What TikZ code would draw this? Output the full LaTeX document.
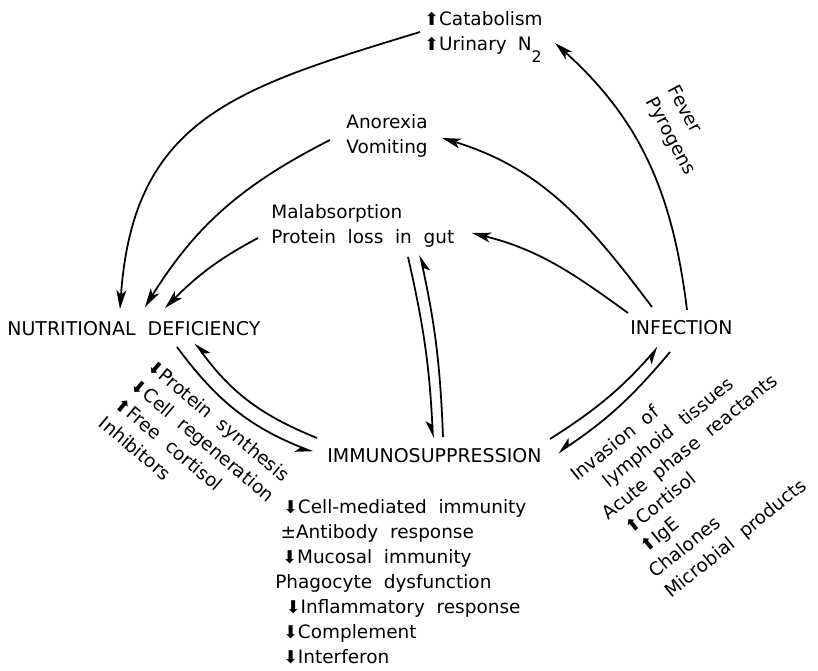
\documentclass[tikz,border=0pt]{standalone}
\usepackage{fontspec}
\setmainfont{DejaVu Sans}[WordSpace=2]
\usetikzlibrary{arrows.meta}

\newcommand{\upar}{{\fontsize{10}{10}\selectfont ⬆}}
\newcommand{\dnar}{{\fontsize{10}{10}\selectfont ⬇}}

\tikzset{
    lbl/.style={inner sep=0pt, font=\fontsize{10.5}{14.2}\selectfont},
    statelbl/.style={inner sep=0pt, font=\fontsize{10.8}{14}\selectfont},
    mainarrow/.style={line width=1pt, -{Stealth[length=3.8mm, width=2mm, inset=1mm]}},
    halfarrow/.style={line width=1pt, -{Stealth[harpoon, swap, length=3mm, width=2.6mm, inset=0.8mm]}}
}

\begin{document}
\begin{tikzpicture}[x=0.02cm, y=0.02cm]
    \useasboundingbox (0,0) rectangle (818,-671);

    % Three states
    \node[statelbl, anchor=base west] (nd) at (7,-336) {NUTRITIONAL DEFICIENCY};
    \node[statelbl, anchor=base west] (immuno) at (327,-463) {IMMUNOSUPPRESSION};
    \node[statelbl, anchor=base west] (infect) at (630,-335) {INFECTION};

    % Effects of infection
    \node[lbl, anchor=north west, align=left] (catab) at (424,-11)
        {\upar Catabolism\\\upar Urinary\hspace{0.6em}N\raisebox{-6.8pt}{\fontsize{9}{9}\selectfont 2}};
    \node[lbl, anchor=north, align=center] (anorex) at (387,-114) {Anorexia\\Vomiting};
    \node[lbl, anchor=north west, align=left] (malab) at (271,-204) {Malabsorption\\Protein loss in gut};
    \node[lbl, rotate=-62, anchor=north west, align=left] (fever) at (680,-83) {Fever\\Pyrogens};

    % Rotated lists along the lower arrows
    \node[lbl, rotate=-40, anchor=north west, align=left] (ndlist) at (155,-357)
        {\dnar Protein synthesis\\\dnar Cell regeneration\\\upar Free cortisol\\Inhibitors};
    \node[lbl, rotate=39, anchor=north west, align=left] (inflist) at (568,-471)
        {Invasion of\\\hspace*{12pt}lymphoid tissues\\Acute phase reactants\\\hspace*{5pt}\upar Cortisol\\
         \hspace*{5pt}\upar IgE\\Chalones\\Microbial products};
    \node[lbl, anchor=north west, align=left] (immlist) at (275,-499)
        {\hspace*{4.5pt}\dnar Cell-mediated immunity\\\hspace*{3pt}±Antibody response\\
         \hspace*{4pt}\dnar Mucosal immunity\\Phagocyte dysfunction\\\hspace*{6pt}\dnar Inflammatory response\\
         \hspace*{4.5pt}\dnar Complement\\\hspace*{4.5pt}\dnar Interferon};

    % Arrows into nutritional deficiency
    \draw[mainarrow] ([shift={(-4,-21)}]catab.north west) to[out=197, in=86, looseness=1.2] ([shift={(113,27)}]nd.base west);
    \draw[mainarrow] ([shift={(-57,-26)}]anorex.north) to[out=207, in=58] ([shift={(138,29)}]nd.base west);
    \draw[mainarrow] ([shift={(-13,-34)}]malab.north west) to[out=208, in=45] ([shift={(158,28)}]nd.base west);

    % Arrows out of infection
    \draw[mainarrow] ([shift={(57,25)}]infect.base west) to[out=97, in=318] ([shift={(131,-32)}]catab.north west);
    \draw[mainarrow] ([shift={(22,28)}]infect.base west) to[out=127, in=343] ([shift={(55,-24)}]anorex.north);
    \draw[mainarrow] ([shift={(-2,22)}]infect.base west) to[out=144, in=346] ([shift={(201,-29)}]malab.north west);

    % Two-way pairs
    \draw[halfarrow] ([shift={(137,-53)}]malab.north west) to[bend left=5] ([shift={(106,25)}]immuno.base west);
    \draw[halfarrow] ([shift={(116,26)}]immuno.base west) to[bend right=5] ([shift={(149,-51)}]malab.north west);
    \draw[halfarrow] ([shift={(170,-11)}]nd.base west) to[bend right=16] ([shift={(-14,11)}]immuno.base west);
    \draw[halfarrow] ([shift={(-10,25)}]immuno.base west) to[bend left=16] ([shift={(188,-7)}]nd.base west);
    \draw[halfarrow] ([shift={(223,24)}]immuno.base west) to[bend right=8] ([shift={(28,-12)}]infect.base west);
    \draw[halfarrow] ([shift={(40,-17)}]infect.base west) to[bend left=8] ([shift={(231,10)}]immuno.base west);
\end{tikzpicture}
\end{document}
